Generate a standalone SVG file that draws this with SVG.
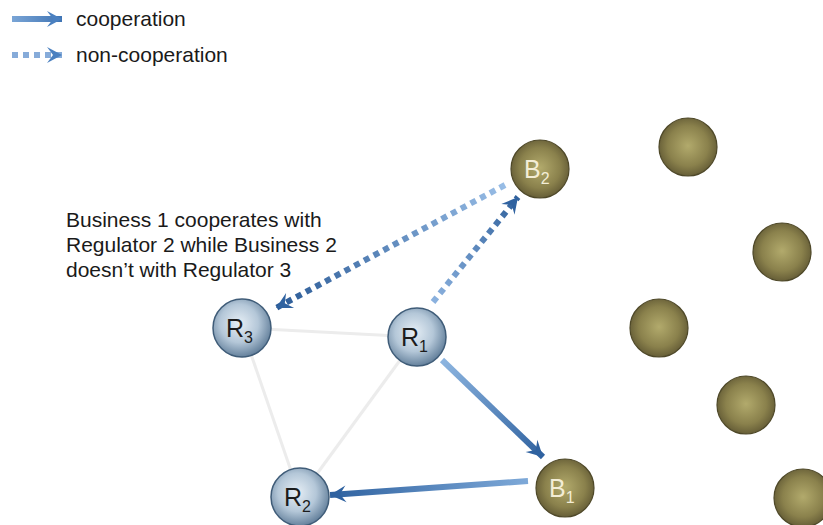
<svg xmlns="http://www.w3.org/2000/svg" width="823" height="525" viewBox="0 0 823 525">
  <defs>
    <style>
      text { font-family: "Liberation Sans", Arial, sans-serif; }
      .lbl { font-size: 21px; fill: #1a1a1a; }
      .node-r { font-size: 25px; fill: #1c1c1c; }
      .node-b { font-size: 25px; fill: #f3edd6; }
      .sub { font-size: 16px; }
      .link { stroke: #ececec; stroke-width: 3; fill: none; }
      .coop { stroke-width: 6; fill: none; }
      .noncoop { stroke-width: 6; fill: none; stroke-dasharray: 6 5; }
      .blue { fill: url(#gBlue); stroke: #3f5c78; stroke-width: 1.5; }
      .olive { fill: url(#gOlive); stroke: #4e4828; stroke-width: 1.2; }
    </style>
    <radialGradient id="gBlue" cx="0.45" cy="0.42" r="0.6">
      <stop offset="0" stop-color="#e6eef5"/>
      <stop offset="0.55" stop-color="#b4c7d8"/>
      <stop offset="1" stop-color="#5f7c98"/>
    </radialGradient>
    <radialGradient id="gOlive" cx="0.5" cy="0.48" r="0.58">
      <stop offset="0" stop-color="#b2aa6c"/>
      <stop offset="0.6" stop-color="#8a814c"/>
      <stop offset="1" stop-color="#5a5230"/>
    </radialGradient>
    <linearGradient id="aR1B1" gradientUnits="userSpaceOnUse" x1="442" y1="360" x2="543" y2="457">
      <stop offset="0" stop-color="#8db5e0"/>
      <stop offset="1" stop-color="#2f62a0"/>
    </linearGradient>
    <linearGradient id="aB1R2" gradientUnits="userSpaceOnUse" x1="528" y1="481" x2="330" y2="495">
      <stop offset="0" stop-color="#7ea9d8"/>
      <stop offset="1" stop-color="#2f62a0"/>
    </linearGradient>
    <linearGradient id="aR1B2" gradientUnits="userSpaceOnUse" x1="433" y1="302" x2="518" y2="197">
      <stop offset="0" stop-color="#8cb2df"/>
      <stop offset="1" stop-color="#30619c"/>
    </linearGradient>
    <linearGradient id="aB2R3" gradientUnits="userSpaceOnUse" x1="505" y1="185" x2="276" y2="308">
      <stop offset="0" stop-color="#98bde6"/>
      <stop offset="1" stop-color="#2a5a96"/>
    </linearGradient>
    <linearGradient id="legSolid" gradientUnits="userSpaceOnUse" x1="12" y1="0" x2="62" y2="0">
      <stop offset="0" stop-color="#7aa5d6"/>
      <stop offset="1" stop-color="#3f74b4"/>
    </linearGradient>
    <marker id="head" viewBox="-18 -10 20 20" refX="0" refY="0" markerWidth="20" markerHeight="20" markerUnits="userSpaceOnUse" orient="auto">
      <path d="M0,0 L-16,-8.5 L-10,0 L-16,8.5 Z" fill="#2f62a0"/>
    </marker>
    <marker id="headLight" viewBox="-18 -10 20 20" refX="0" refY="0" markerWidth="20" markerHeight="20" markerUnits="userSpaceOnUse" orient="auto">
      <path d="M0,0 L-15,-8 L-9,0 L-15,8 Z" fill="#4a80c0"/>
    </marker>
  </defs>

  <rect width="823" height="525" fill="#ffffff"/>

  <!-- legend -->
  <g id="legend">
    <line x1="12" y1="19" x2="62" y2="19" stroke="url(#legSolid)" stroke-width="6" marker-end="url(#headLight)"/>
    <text class="lbl" x="76" y="26">cooperation</text>
    <line x1="12" y1="55" x2="62" y2="55" stroke="#86abd9" stroke-width="6" stroke-dasharray="6 5" marker-end="url(#headLight)"/>
    <text class="lbl" x="76" y="62">non-cooperation</text>
  </g>

  <!-- annotation -->
  <g id="note">
    <text class="lbl" x="66" y="227">Business 1 cooperates with</text>
    <text class="lbl" x="66" y="252">Regulator 2 while Business 2</text>
    <text class="lbl" x="66" y="277">doesn’t with Regulator 3</text>
  </g>

  <!-- connectors -->
  <g id="connectors">
    <line class="link" x1="242" y1="328" x2="417" y2="337"/>
    <line class="link" x1="242" y1="328" x2="300" y2="497"/>
    <line class="link" x1="417" y1="337" x2="300" y2="497"/>
    <line class="coop" x1="442" y1="360" x2="543" y2="457" stroke="url(#aR1B1)" marker-end="url(#head)"/>
    <line class="coop" x1="528" y1="481" x2="330" y2="495" stroke="url(#aB1R2)" marker-end="url(#head)"/>
    <line class="noncoop" x1="433" y1="302" x2="518" y2="197" stroke="url(#aR1B2)" marker-end="url(#head)"/>
    <line class="noncoop" x1="505" y1="185" x2="276" y2="308" stroke="url(#aB2R3)" marker-end="url(#head)"/>
  </g>

  <!-- regulators -->
  <g id="R1">
    <circle class="blue" cx="417" cy="337" r="29"/>
    <text class="node-r" x="401" y="346">R<tspan class="sub" dy="6">1</tspan></text>
  </g>
  <g id="R2">
    <circle class="blue" cx="300" cy="497" r="29"/>
    <text class="node-r" x="284" y="506">R<tspan class="sub" dy="6">2</tspan></text>
  </g>
  <g id="R3">
    <circle class="blue" cx="242" cy="328" r="29"/>
    <text class="node-r" x="226" y="337">R<tspan class="sub" dy="6">3</tspan></text>
  </g>

  <!-- businesses -->
  <g id="B1">
    <circle class="olive" cx="565" cy="488" r="29"/>
    <text class="node-b" x="549" y="497">B<tspan class="sub" dy="6">1</tspan></text>
  </g>
  <g id="B2">
    <circle class="olive" cx="540" cy="169" r="29"/>
    <text class="node-b" x="524" y="178">B<tspan class="sub" dy="6">2</tspan></text>
  </g>
  <g id="B3"><circle class="olive" cx="688" cy="147" r="29"/></g>
  <g id="B4"><circle class="olive" cx="782" cy="252" r="29"/></g>
  <g id="B5"><circle class="olive" cx="659" cy="328" r="29"/></g>
  <g id="B6"><circle class="olive" cx="746" cy="405" r="29"/></g>
  <g id="B7"><circle class="olive" cx="803" cy="498" r="29"/></g>
</svg>
